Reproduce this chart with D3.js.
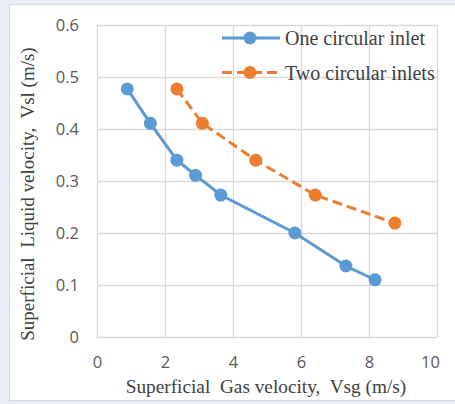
<!DOCTYPE html>
<html>
<head>
<meta charset="utf-8">
<script src="https://cdn.jsdelivr.net/npm/d3@7"></script>
<style>
  html, body { margin: 0; padding: 0; background: #e9eef7; }
  svg { display: block; }
</style>
</head>
<body>
<script>
// values
var oneX = [0.89, 1.57, 2.35, 2.90, 3.64, 5.82, 7.32, 8.18];
var oneY = [0.477, 0.411, 0.340, 0.311, 0.273, 0.200, 0.1365, 0.110];
var twoX = [2.35, 3.10, 4.67, 6.42, 8.76];
var twoY = [0.477, 0.411, 0.340, 0.273, 0.219];
var xTicks = [0, 2, 4, 6, 8, 10];
var yTicks = [0, 0.1, 0.2, 0.3, 0.4, 0.5, 0.6];
var seriesNames = ["One circular inlet", "Two circular inlets"];

var width = 455, height = 404;
var margin = {top: 25, right: 18, bottom: 67, left: 97};

var svg = d3.select("body").append("svg")
      .attr("width", width)
      .attr("height", height);

// white card
svg.append("rect")
  .attr("x", 9.5).attr("y", 4.5)
  .attr("width", width - 9).attr("height", 396)
  .attr("fill", "#fff")
  .attr("stroke", "#d6d9de");

var innerW = width - margin.left - margin.right;
var innerH = height - margin.top - margin.bottom;

var g = svg.append("g").attr("transform", `translate(${margin.left}, ${margin.top})`);

var x = d3.scaleLinear().domain([0, 10]).range([0, innerW]);
var y = d3.scaleLinear().domain([0, 0.6]).range([innerH, 0]);

// grid
g.append("g").selectAll("line").data(xTicks).enter().append("line")
  .attr("x1", d => Math.round(x(d)) + 0.5).attr("x2", d => Math.round(x(d)) + 0.5)
  .attr("y1", 0).attr("y2", innerH)
  .attr("stroke", "#d9d9d9").attr("stroke-width", 1.3);
g.append("g").selectAll("line").data(yTicks).enter().append("line")
  .attr("y1", d => Math.round(y(d)) + 0.5).attr("y2", d => Math.round(y(d)) + 0.5)
  .attr("x1", 0).attr("x2", innerW)
  .attr("stroke", "#d9d9d9").attr("stroke-width", 1.3);

var xAxis = d3.axisBottom(x).tickValues(xTicks).tickSize(0).tickPadding(19).tickFormat(d3.format("d"));
var yAxis = d3.axisLeft(y).tickValues(yTicks).tickSize(0).tickPadding(18).tickFormat(d => d === 0 ? "0" : d3.format(".1f")(d));

var gx = g.append("g").attr("transform", `translate(0, ${innerH})`).call(xAxis)
  .call(a => a.select(".domain").remove());
g.append("g").call(yAxis)
  .call(a => a.select(".domain").remove());

g.selectAll(".tick text")
  .attr("fill", "#595959")
  .style("font-family", "'Open Sans', sans-serif")
  .style("font-size", "16.5px");

// last label is pulled inside the chart area, like the original
gx.selectAll(".tick text").filter(d => d === 10).attr("dx", -7);

var line = d3.line().x(d => x(d[0])).y(d => y(d[1]));
var oneData = d3.zip(oneX, oneY);
var twoData = d3.zip(twoX, twoY);
var colors = ["#5b9bd5", "#ed7d31"];

g.append("path").datum(oneData)
  .attr("d", line).attr("fill", "none")
  .attr("stroke", colors[0]).attr("stroke-width", 3);
g.append("path").datum(twoData)
  .attr("d", line).attr("fill", "none")
  .attr("stroke", colors[1]).attr("stroke-width", 3)
  .attr("stroke-dasharray", "10,5");

g.append("g").selectAll("circle").data(oneData).enter().append("circle")
  .attr("cx", d => x(d[0])).attr("cy", d => y(d[1])).attr("r", 6.5)
  .attr("fill", colors[0]);
g.append("g").selectAll("circle").data(twoData).enter().append("circle")
  .attr("cx", d => x(d[0])).attr("cy", d => y(d[1])).attr("r", 6.5)
  .attr("fill", colors[1]);

// legend
var legend = svg.append("g");
seriesNames.forEach(function(name, i) {
  var ly = 38 + i * 34.5;
  legend.append("line")
    .attr("x1", 222).attr("x2", 280).attr("y1", ly).attr("y2", ly)
    .attr("stroke", colors[i]).attr("stroke-width", 3)
    .attr("stroke-dasharray", i === 1 ? "10,5" : null);
  legend.append("circle")
    .attr("cx", 250).attr("cy", ly).attr("r", 6.5)
    .attr("fill", colors[i]);
  legend.append("text")
    .attr("x", 285).attr("y", ly + 7)
    .attr("fill", "#404040")
    .style("font-family", "'Liberation Serif', serif")
    .style("font-size", "20px")
    .text(name);
});

// axis titles
svg.append("text")
  .attr("x", 266).attr("y", 393)
  .attr("text-anchor", "middle")
  .attr("fill", "#404040")
  .style("font-family", "'Liberation Serif', serif")
  .style("font-size", "19.3px")
  .style("white-space", "pre")
  .text("Superficial  Gas velocity,  Vsg (m/s)");

svg.append("text")
  .attr("transform", "translate(34, 194) rotate(-90)")
  .attr("text-anchor", "middle")
  .attr("fill", "#404040")
  .style("font-family", "'Liberation Serif', serif")
  .style("font-size", "19px")
  .style("white-space", "pre")
  .text("Superficial  Liquid velocity,  Vsl (m/s)");
</script>
</body>
</html>
